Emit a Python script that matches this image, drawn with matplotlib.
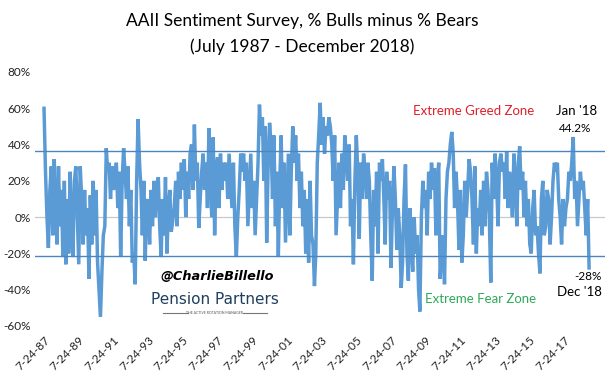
import matplotlib
matplotlib.use("Agg")
import matplotlib.pyplot as plt
import pandas as pd

# monthly readings of % bulls minus % bears, Jul 1987 .. Dec 2018
spread = [
    60, 25, 0, -17, 15, 28,                                   # 1987
    -10, 32, 5, -15, 28, -5, 15, -22, 20, -26, 10, -20,       # 1988
    25, -5, -22, 20, 28, 0, -26, 28, 10, -15, 15, -10,        # 1989
    5, -34, 12, -15, 20, -10, 15, -25, -40, -55, -30, -10,    # 1990
    -5, 38, 25, 30, 10, 28, 15, 20, 30, 5, 25, -22,           # 1991
    20, 38, 25, 10, 28, -5, 15, -25, -20, -37, 20, 54,        # 1992
    30, 15, -10, 20, -24, 10, 5, -15, 15, -5, 20, 0,          # 1993
    18, 22, -5, -22, 10, -10, 22, -20, 5, 15, -8, -2,         # 1994
    5, 20, -5, 25, 10, 30, 15, 32, 0, 25, 10, 35,             # 1995
    40, 15, 51, 20, 30, -6, 10, 25, 35, 15, 30, 5,            # 1996
    49, 20, 0, 44, -10, 25, 33, 5, 35, 15, 30, 20,            # 1997
    30, 10, 35, 20, 5, 30, -5, -22, 0, 15, 35, 25,            # 1998
    35, 20, 30, -5, 15, 35, 5, 20, -10, 10, 30, 62,           # 1999
    45, 55, 20, 50, -14, 30, 52, 40, 10, 45, -5, 25,          # 2000
    -22, 20, 45, 5, 30, -14, 10, 35, -10, 25, 50, 30,         # 2001
    45, 20, 35, 5, 25, -5, 15, -20, 10, -25, 20, -10,         # 2002
    -15, -38, -20, 30, 45, 63, 40, 55, 35, 50, 45, 55,        # 2003
    50, 40, 20, 45, -10, 10, 30, 5, 35, 15, 45, 35,           # 2004
    20, 40, -5, 10, -26, 20, 45, 25, -12, 30, 10, 35,         # 2005
    25, 10, 30, 20, -10, -35, 15, -5, 25, -20, 30, 20,        # 2006
    32, 10, -15, 25, 10, 20, -28, 5, 28, 10, -18, 5,          # 2007
    -10, -39, -25, 10, 29, -20, -35, 5, -15, -30, 0, -20,     # 2008
    -10, -40, -52, 0, 20, 5, 15, -10, 25, 10, 30, 15,         # 2009
    27, -10, 20, 30, -34, -20, -10, -37, 10, 25, 30, 40,      # 2010
    47, 35, 5, 25, 10, -18, 15, -25, -10, 20, 0, 15,          # 2011
    32, 25, 10, -15, 28, -20, 5, -5, 15, -10, 20, -5,         # 2012
    25, 15, 0, -36, 30, 10, 35, 20, -5, 30, 35, 25,           # 2013
    30, 10, 36, 5, 25, 15, 0, 35, 20, -5, 30, 39,             # 2014
    15, 25, 0, 20, -5, 10, -15, -20, 5, 15, -10, -5,          # 2015
    -20, -31, 10, 20, -10, -5, 15, 10, -15, 0, 20, 30,        # 2016
    25, 30, 10, 0, -15, 10, -5, 5, 10, 25, 20, 30,            # 2017
    44.2, 10, 20, -5, 10, 25, 15, 20, 5, -10, 10, -28,        # 2018
]
dates = pd.date_range("1987-07-01", periods=len(spread), freq="MS") + pd.Timedelta(days=23)

greed_level = 36.5
fear_level = -21.5
tick_years = list(range(1987, 2018, 2))
tick_dates = pd.to_datetime([f"{y}-07-24" for y in tick_years])
tick_labels = [f"7-24-{y % 100:02d}" for y in tick_years]

plt.rcParams["font.family"] = ["Lato", "DejaVu Sans"]

fig = plt.figure(figsize=(6.14, 3.81), dpi=100)
ax = fig.add_axes([35 / 614, (381 - 326) / 381, 570 / 614, 254 / 381])

ax.plot(dates, spread, color="#5b9bd5", linewidth=2.5, solid_joinstyle="miter")
ax.axhline(0, color="#c8c8c8", linewidth=0.9, zorder=0)
ax.axhline(greed_level, color="#4a86c0", linewidth=1.0)
ax.axhline(fear_level, color="#4a86c0", linewidth=1.0)

ax.set_ylim(-60, 80)
ax.set_yticks(range(-60, 81, 20))
ax.set_yticklabels([f"{v}%" for v in range(-60, 81, 20)])
ax.set_xlim(dates[0] - pd.Timedelta(days=190), dates[-1] + pd.Timedelta(days=335))
ax.set_xticks(tick_dates)
ax.set_xticklabels(tick_labels, rotation=45, ha="right", va="top", rotation_mode="anchor")
ax.tick_params(length=0, labelsize=8.5, colors="#222222")
ax.tick_params(axis="y", pad=3)
ax.tick_params(axis="x", pad=6)
for s in ax.spines.values():
    s.set_visible(False)

fig.text(0.492, 0.945, "AAII Sentiment Survey, % Bulls minus % Bears", ha="center", va="center", fontsize=12.5)
fig.text(0.492, 0.878, "(July 1987 - December 2018)", ha="center", va="center", fontsize=12.5)

fig.text(474 / 614, 1 - 111 / 381, "Extreme Greed Zone", color="#e0202a", ha="center", va="center", fontsize=9.5)
fig.text(481 / 614, 1 - 299 / 381, "Extreme Fear Zone", color="#2eaa5a", ha="center", va="center", fontsize=9.5)
fig.text(577 / 614, 1 - 111 / 381, "Jan '18", ha="center", va="center", fontsize=9.5)
fig.text(575 / 614, 1 - 128 / 381, "44.2%", ha="center", va="center", fontsize=8.5)
fig.text(588 / 614, 1 - 276 / 381, "-28%", ha="center", va="center", fontsize=8.5)
fig.text(579 / 614, 1 - 292 / 381, "Dec '18", ha="center", va="center", fontsize=9.5)

# watermark
fig.text(217 / 614, 1 - 277 / 381, "@CharlieBillello", ha="center", va="center", fontsize=9.3,
         fontweight="bold", style="italic", family="DejaVu Sans")
fig.text(215 / 614, 1 - 300 / 381, "Pension Partners", ha="center", va="center", fontsize=11,
         color="#1f3f5f", family="DejaVu Sans")
fig.text(215 / 614, 1 - 313 / 381, "THE ACTIVE ROTATION MANAGER", ha="center", va="center", fontsize=2.5,
         color="#555555")
fig.add_artist(plt.Line2D([163 / 614, 188 / 614], [1 - 313 / 381] * 2, color="#777777", linewidth=0.8))
fig.add_artist(plt.Line2D([243 / 614, 267 / 614], [1 - 313 / 381] * 2, color="#777777", linewidth=0.8))

fig.savefig("out.png", dpi=100)
